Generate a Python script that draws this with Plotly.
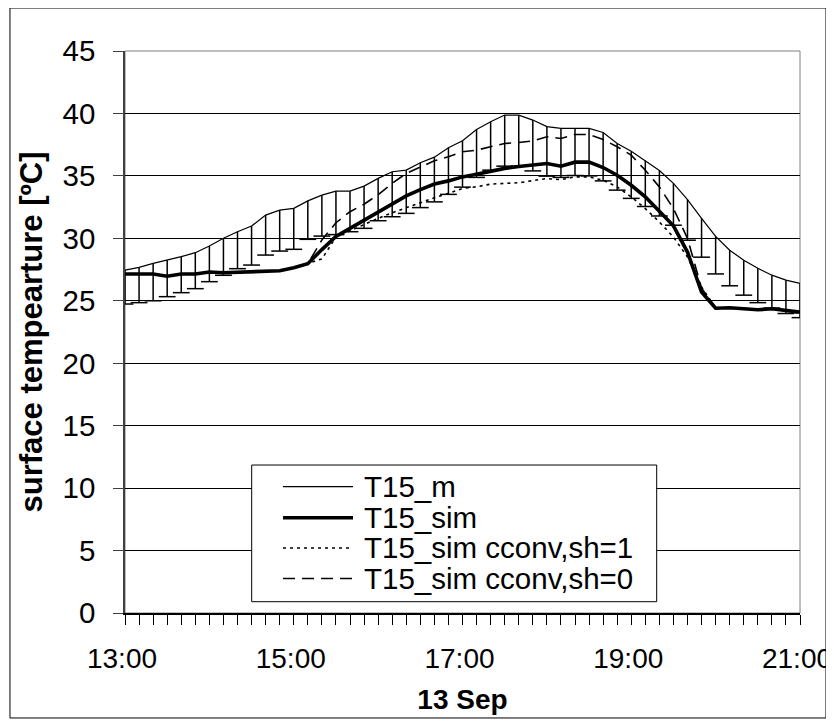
import plotly.graph_objects as go
import pandas as pd

# 10-minute time steps, 13 Sep, 13:00 .. 21:00
times = pd.date_range("2009-09-13 13:00", periods=49, freq="10min")

T15_m = [27.46, 27.68, 28.0, 28.26, 28.53, 28.85, 29.38, 30.0, 30.53, 30.98,
         31.86, 32.26, 32.4, 33.0, 33.46, 33.78, 33.78, 34.18, 34.8, 35.33,
         35.46, 36.05, 36.5, 37.25, 37.81, 38.72, 39.33, 39.87, 39.87, 39.47,
         38.95, 38.8, 38.8, 38.8, 38.48, 37.6, 36.97, 36.22, 35.43, 34.4,
         33.1, 31.6, 30.15, 29.05, 28.25, 27.6, 27.05, 26.65, 26.4]

T15_m_low = [24.74, 24.85, 25.0, 25.33, 25.65, 25.97, 26.53, 27.04, 27.57, 27.86,
             28.66, 28.98, 29.12, 29.92, 30.18, 30.3, 30.53, 30.8, 31.41, 31.73,
             32.0, 32.46, 32.92, 33.52, 34.1, 34.88, 35.46, 35.78, 35.78, 35.4,
             34.98, 34.88, 35.03, 35.0, 34.6, 33.86, 33.2, 32.55, 31.79, 31.05,
             29.85, 28.49, 27.15, 26.2, 25.45, 24.85, 24.42, 23.98, 23.65]

T15_sim = [27.14, 27.14, 27.14, 26.97, 27.14, 27.14, 27.3, 27.25, 27.3, 27.3,
           27.35, 27.4, 27.65, 27.97, 29.1, 30.15, 30.8, 31.45, 32.1, 32.7,
           33.4, 33.9, 34.35, 34.6, 34.92, 35.13, 35.4, 35.6, 35.75, 35.86,
           35.99, 35.78, 36.1, 36.1, 35.67, 35.05, 34.25, 33.32, 32.19, 31.0,
           28.9, 25.7, 24.4, 24.44, 24.36, 24.28, 24.36, 24.2, 24.09]

T15_sim_sh1 = [27.14, 27.14, 27.14, 26.97, 27.14, 27.14, 27.3, 27.25, 27.3, 27.3,
               27.35, 27.4, 27.65, 27.97, 28.35, 30.1, 30.6, 31.15, 31.6, 32.05,
               32.45, 32.9, 33.25, 33.6, 34.0, 34.13, 34.34, 34.4, 34.45, 34.62,
               34.79, 34.7, 34.92, 34.92, 34.65, 34.12, 33.32, 32.38, 31.31, 30.1,
               28.5, 26.1, 24.4, 24.4, 24.35, 24.3, 24.35, 24.2, 24.0]

T15_sim_sh0 = [27.14, 27.14, 27.14, 26.97, 27.14, 27.14, 27.3, 27.25, 27.3, 27.3,
               27.35, 27.4, 27.65, 27.97, 29.86, 31.25, 32.13, 32.73, 33.5, 34.4,
               35.2, 35.73, 36.21, 36.53, 36.93, 37.06, 37.33, 37.6, 37.67, 37.8,
               38.13, 38.0, 38.32, 38.32, 37.91, 37.33, 36.66, 35.45, 34.12, 32.38,
               30.0, 26.0, 24.45, 24.45, 24.4, 24.3, 24.4, 24.25, 24.1]

legend_names = ["T15_m", "T15_sim", "T15_sim cconv,sh=1", "T15_sim cconv,sh=0"]

FONT = "Arial, 'Liberation Sans', sans-serif"
TXT = 29.5

fig = go.Figure()

# measured line with downward error bars
fig.add_trace(go.Scatter(
    x=times, y=T15_m, mode="lines", name=legend_names[0],
    line=dict(color="black", width=1.2),
    error_y=dict(type="data", symmetric=False, array=[0] * len(T15_m),
                 arrayminus=[m - l for m, l in zip(T15_m, T15_m_low)],
                 color="black", thickness=1.5, width=0),
    showlegend=False, hoverinfo="skip"))
# caps at the lower ends of the error bars
fig.add_trace(go.Scatter(
    x=times, y=T15_m_low, mode="markers",
    marker=dict(symbol="line-ew-open", size=12, color="black",
                line=dict(color="black", width=1.5)),
    showlegend=False, hoverinfo="skip"))

fig.add_trace(go.Scatter(x=times, y=T15_sim_sh1, mode="lines", name=legend_names[2],
                         line=dict(color="black", width=1.6, dash="3px,4px"), showlegend=False))
fig.add_trace(go.Scatter(x=times, y=T15_sim_sh0, mode="lines", name=legend_names[3],
                         line=dict(color="black", width=1.6, dash="12px,7px"), showlegend=False))
fig.add_trace(go.Scatter(x=times, y=T15_sim, mode="lines", name=legend_names[1],
                         line=dict(color="black", width=3.6), showlegend=False))

# the page body has an 8px margin, so the figure is 826x718 and offset by 8px
fig.update_layout(
    width=826, height=718,
    margin=dict(l=117, r=34, t=43, b=113, autoexpand=False),
    paper_bgcolor="white", plot_bgcolor="white",
    font=dict(family=FONT, size=TXT, color="black"),
    showlegend=False,
)

fig.update_xaxes(
    type="date", range=[times[0], times[-1]],
    tickformat="%H:%M", dtick=7200000, tick0=times[0],
    ticks="outside", ticklen=10, tickwidth=1, tickcolor="black",
    showline=True, linecolor="black", linewidth=1.5,
    showgrid=False, zeroline=False, automargin=False,
    minor=dict(dtick=600000, ticks="outside", ticklen=10, tickwidth=1,
               tickcolor="black", showgrid=False),
    ticklabelstandoff=10, ticklabeloverflow="allow", ticklabelshift=-3,
    tickfont=dict(size=28),
    title=dict(text="<b>13 Sep</b>", font=dict(size=28), standoff=16),
)
fig.update_yaxes(
    range=[0, 45], dtick=5, tick0=0,
    ticks="outside", ticklen=10, tickwidth=1, tickcolor="#404040",
    showline=True, linecolor="#404040", linewidth=1.5,
    showgrid=True, gridcolor="black", gridwidth=1, zeroline=False, automargin=False,
    ticklabelstandoff=12,
    tickfont=dict(size=TXT),
    title=dict(text="<b>surface tempearture [ºC]</b>", font=dict(size=31), standoff=11),
)

# plot-area border (grey) and outer chart border
fig.add_shape(type="rect", xref="paper", yref="paper", x0=0, x1=1, y0=0, y1=1,
              line=dict(color="#808080", width=1), layer="below")
fig.add_shape(type="rect", xref="paper", yref="paper",
              x0=-0.1704, x1=1.0385, y0=-0.1868, y1=1.0765,
              line=dict(color="black", width=1))

# legend box
fig.add_shape(type="rect", xref="paper", yref="paper",
              x0=0.1877, x1=0.7877, y0=0.0201, y1=0.2633,
              fillcolor="white", line=dict(color="black", width=1), layer="above")
row_y = [0.2247, 0.1694, 0.1157, 0.0614]
styles = [dict(width=1.2), dict(width=3.6), dict(width=1.6, dash="3px,4px"),
          dict(width=1.6, dash="12px,7px")]
for name, yy, st in zip(legend_names, row_y, styles):
    fig.add_shape(type="line", xref="paper", yref="paper",
                  x0=0.2341, x1=0.3378, y0=yy, y1=yy,
                  line=dict(color="black", **st), layer="above")
    fig.add_annotation(xref="paper", yref="paper", x=0.3507, y=yy,
                       xanchor="left", yanchor="middle", text=name,
                       showarrow=False, font=dict(size=TXT, family=FONT))

fig.write_html("out.html")
